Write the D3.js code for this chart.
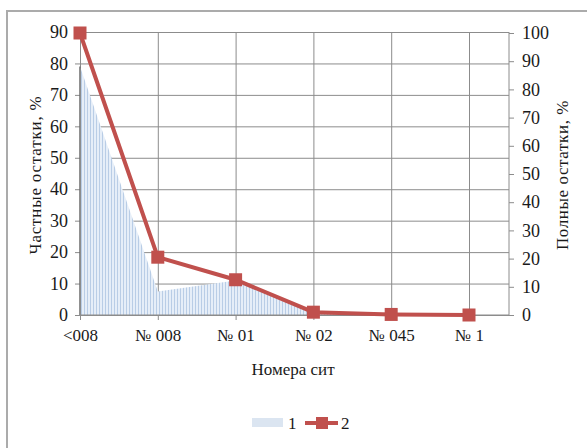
<!DOCTYPE html>
<html lang="ru">
<head>
<meta charset="UTF-8">
<title>Номера сит</title>
<script src="https://d3js.org/d3.v7.min.js"></script>
<style>
html, body { margin: 0; padding: 0; background: #fff; }
svg { display: block; }
text { font-family: "Liberation Serif", "Times New Roman", serif; fill: #1a1a1a; }
</style>
</head>
<body>
<script>
const categories = ['<008', '№ 008', '№ 01', '№ 02', '№ 045', '№ 1'];
const partial = [79, 7.5, 11, 0.5, 0, 0];      // 1 – частные остатки (левая ось)
const full = [100, 20.5, 12.5, 1, 0.2, 0];     // 2 – полные остатки (правая ось)
const leftTicks = [0, 10, 20, 30, 40, 50, 60, 70, 80, 90];
const rightTicks = [0, 10, 20, 30, 40, 50, 60, 70, 80, 90, 100];

const w = 587, h = 448;
const plot = { left: 80, right: 509, top: 32, bottom: 315 };
const red = '#c0504d';
const grid = '#8c8c8c';

const svg = d3.select('body').append('svg').attr('width', w).attr('height', h);

const defs = svg.append('defs');
const pat = defs.append('pattern').attr('id', 'stripes')
    .attr('patternUnits', 'userSpaceOnUse').attr('width', 3).attr('height', 3);
pat.append('rect').attr('width', 3).attr('height', 3).attr('fill', '#e6eef8');
pat.append('rect').attr('width', 1).attr('height', 3).attr('fill', '#b9cde6');

// chart frame
svg.append('path').attr('d', `M7,${h} V11 H${w}`)
    .attr('fill', 'none').attr('stroke', '#ababab').attr('stroke-width', 2);

const x = d3.scalePoint().domain(categories).range([plot.left, 469]);
const yL = d3.scaleLinear().domain([0, 90]).range([plot.bottom, plot.top]);
const yR = d3.scaleLinear().domain([0, 100]).range([plot.bottom, 33]);

// horizontal gridlines + left ticks
svg.append('g').attr('transform', `translate(${plot.left},0)`)
    .call(d3.axisLeft(yL).tickValues(leftTicks).tickSize(5).tickFormat(''))
    .call(g => g.select('.domain').remove())
    .call(g => g.selectAll('line').attr('stroke', grid).attr('x2', plot.right - plot.left).attr('x1', -5));

// vertical gridlines + bottom ticks
svg.append('g').attr('transform', `translate(0,${plot.bottom})`)
    .call(d3.axisBottom(x).tickSize(5).tickFormat(''))
    .call(g => g.select('.domain').remove())
    .call(g => g.selectAll('line').attr('stroke', grid).attr('y1', plot.top - plot.bottom).attr('y2', 5));

// area series 1
svg.append('path').datum(partial)
    .attr('fill', 'url(#stripes)')
    .attr('d', d3.area().x((d, i) => x(categories[i])).y0(yL(0)).y1(d => yL(d)));
svg.append('line')
    .attr('x1', x(categories[0])).attr('x2', x(categories[0]))
    .attr('y1', yL(0)).attr('y2', yL(partial[0]))
    .attr('stroke', '#6b6b6b').attr('stroke-width', 1.5);

// left axis labels
const leftAxis = svg.append('g').attr('transform', `translate(${plot.left},0)`)
    .call(d3.axisLeft(yL).tickValues(leftTicks).tickSize(0).tickPadding(12))
    .call(g => g.select('.domain').remove());
leftAxis.selectAll('text').attr('font-size', 18).attr('font-family', '"Liberation Serif", serif').attr('fill', '#1a1a1a');

// bottom axis line and labels
svg.append('line').attr('x1', plot.left).attr('x2', plot.right)
    .attr('y1', plot.bottom).attr('y2', plot.bottom).attr('stroke', grid);
const bottomAxis = svg.append('g').attr('transform', `translate(0,${plot.bottom})`)
    .call(d3.axisBottom(x).tickSize(0).tickPadding(14))
    .call(g => g.select('.domain').remove());
bottomAxis.selectAll('text').attr('font-size', 17).attr('font-family', '"Liberation Serif", serif').attr('fill', '#1a1a1a');

// right axis
const rightAxis = svg.append('g').attr('transform', `translate(${plot.right},0)`)
    .call(d3.axisRight(yR).tickValues(rightTicks).tickSize(5).tickPadding(8));
rightAxis.select('.domain').attr('stroke', grid).attr('d', `M0,${plot.bottom}V${plot.top}`);
rightAxis.selectAll('line').attr('stroke', grid);
rightAxis.selectAll('text').attr('font-size', 18).attr('font-family', '"Liberation Serif", serif').attr('fill', '#1a1a1a');

// line series 2
svg.append('path').datum(full)
    .attr('fill', 'none').attr('stroke', red).attr('stroke-width', 4)
    .attr('d', d3.line().x((d, i) => x(categories[i])).y(d => yR(d)));
svg.selectAll('rect.marker').data(full).enter().append('rect')
    .attr('class', 'marker')
    .attr('x', (d, i) => x(categories[i]) - 6.5).attr('y', d => yR(d) - 6.5)
    .attr('width', 13).attr('height', 13).attr('fill', red);

// axis titles
svg.append('text').attr('transform', 'translate(41,175) rotate(-90)')
    .attr('text-anchor', 'middle').attr('font-size', 17).attr('letter-spacing', 0.8)
    .text('Частные остатки, %');
svg.append('text').attr('transform', 'translate(568,175) rotate(-90)')
    .attr('text-anchor', 'middle').attr('font-size', 17).attr('letter-spacing', 0.6)
    .text('Полные остатки, %');
svg.append('text').attr('x', 293).attr('y', 375)
    .attr('text-anchor', 'middle').attr('font-size', 17)
    .text('Номера сит');

// legend
const legend = svg.append('g');
legend.append('rect').attr('x', 252).attr('y', 418).attr('width', 31).attr('height', 9).attr('fill', '#dbe5f1');
legend.append('text').attr('x', 288).attr('y', 429).attr('font-size', 17).text('1');
legend.append('line').attr('x1', 305).attr('x2', 338).attr('y1', 423).attr('y2', 423)
    .attr('stroke', red).attr('stroke-width', 4);
legend.append('rect').attr('x', 316).attr('y', 417).attr('width', 12).attr('height', 12).attr('fill', red);
legend.append('text').attr('x', 341).attr('y', 429).attr('font-size', 17).text('2');
</script>
</body>
</html>
